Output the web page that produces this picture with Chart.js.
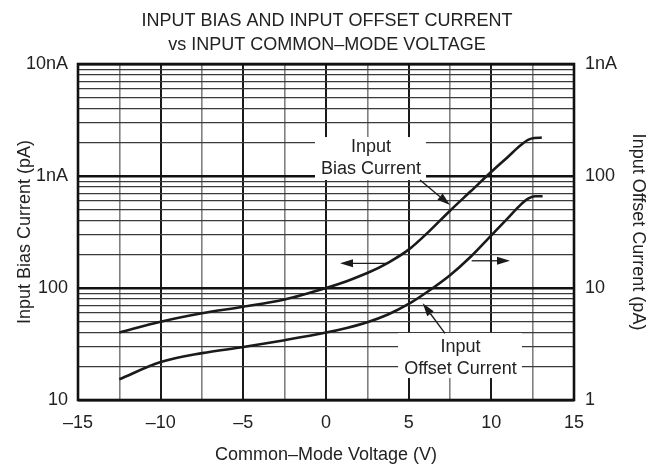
<!DOCTYPE html>
<html>
<head>
<meta charset="utf-8">
<script src="https://cdn.jsdelivr.net/npm/chart.js@4/dist/chart.umd.min.js"></script>
<style>
  html, body { margin: 0; padding: 0; background: #fff; }
  #c { display: block; }
</style>
</head>
<body>
<canvas id="c" width="654" height="468"></canvas>
<script>
// ---- data ----
const titleLines = ['INPUT BIAS AND INPUT OFFSET CURRENT', 'vs INPUT COMMON\u2013MODE VOLTAGE'];
const xTitle = 'Common\u2013Mode Voltage (V)';
const yLeftTitle = 'Input Bias Current (pA)';
const yRightTitle = 'Input Offset Current (pA)';

// Input bias current (left axis, pA) vs common-mode voltage (V)
const biasV  = [-12.5, -10, -7.5, -5, -2.5, 0, 1.25, 2.5, 3.75, 5, 6.25, 7.5, 8.75, 10, 11, 11.75, 12.25, 12.6, 13.05];
const biasPA = [40, 50, 59.5, 68, 79, 100, 115, 136, 168, 220, 322, 490, 730, 1090, 1480, 1870, 2110, 2185, 2200];

// Input offset current (right axis, pA) vs common-mode voltage (V)
const offV  = [-12.5, -10, -7.5, -5, -2.5, 0, 1.25, 2.5, 3.75, 5, 6.25, 7.5, 8.75, 10, 11, 11.75, 12.25, 12.65, 13.1];
const offPA = [1.53, 2.18, 2.62, 2.97, 3.42, 4.0, 4.4, 4.95, 5.8, 7.2, 9.5, 13, 19, 29.5, 42, 55, 63, 66, 66];

// axis ranges and tick labels
const xMin = -15, xMax = 15, xStep = 2.5;
const leftDecades  = [10, 100, 1000, 10000];
const leftLabels   = ['10', '100', '1nA', '10nA'];
const rightDecades = [1, 10, 100, 1000];
const rightLabels  = ['1', '10', '100', '1nA'];

// annotations (data coordinates: V, left-axis pA)
const biasLabel   = { lines: ['Input', 'Bias Current'],   box: [-0.665, 6.05, 2228, 921] };
const offsetLabel = { lines: ['Input', 'Offset Current'], box: [4.355, 11.855, 39.6, 15.7] };
const arrows = [
  [5.685, 921, 7.5, 551],
  [7.198, 39.4, 5.85, 73],
  [3.67, 166, 0.847, 166],
  [8.81, 175, 11.13, 175]
];

// ---- build ----
const FONT = "'Liberation Sans', Arial, Helvetica, sans-serif";
const TXT = '#222';

function minorTicks(decades) {
  const out = [];
  for (let i = 0; i < decades.length - 1; i++) {
    for (let m = 1; m < 10; m++) out.push({ value: decades[i] * m });
  }
  out.push({ value: decades[decades.length - 1] });
  return out;
}
function isDecade(v) { const l = Math.log10(v); return Math.abs(l - Math.round(l)) < 1e-9; }

const annotPlugin = {
  id: 'annot',
  beforeDatasetsDraw(chart) {
    const { ctx, chartArea, scales } = chart;
    const x = scales.x, y = scales.y;
    ctx.save();
    ctx.fillStyle = '#fff';
    [biasLabel, offsetLabel].forEach(l => {
      const [x0, x1, y0, y1] = l.box;
      const px0 = x.getPixelForValue(x0), px1 = x.getPixelForValue(x1);
      const py0 = y.getPixelForValue(y0), py1 = y.getPixelForValue(y1);
      ctx.fillRect(px0, py0, px1 - px0, py1 - py0);
    });
    // frame
    ctx.strokeStyle = '#111';
    ctx.lineWidth = 2.6;
    ctx.strokeRect(chartArea.left, chartArea.top, chartArea.right - chartArea.left, chartArea.bottom - chartArea.top);
    ctx.restore();
  },
  afterDatasetsDraw(chart) {
    const { ctx, scales } = chart;
    const x = scales.x, y = scales.y;
    ctx.save();
    ctx.fillStyle = TXT;
    ctx.font = '18px ' + FONT;
    ctx.textAlign = 'center';
    ctx.textBaseline = 'middle';
    [[biasLabel, 0], [offsetLabel, 2]].forEach(([l, dy]) => {
      const [x0, x1, y0, y1] = l.box;
      const cx = (x.getPixelForValue(x0) + x.getPixelForValue(x1)) / 2 + 0.5;
      const cy = (y.getPixelForValue(y0) + y.getPixelForValue(y1)) / 2 + dy;
      ctx.fillText(l.lines[0], cx, cy - 11);
      ctx.fillText(l.lines[1], cx, cy + 11);
    });
    ctx.strokeStyle = '#1a1a1a';
    ctx.fillStyle = '#1a1a1a';
    ctx.lineWidth = 1.3;
    arrows.forEach(([ax0, ay0, ax1, ay1]) => {
      const p0x = x.getPixelForValue(ax0), p0y = y.getPixelForValue(ay0);
      const p1x = x.getPixelForValue(ax1), p1y = y.getPixelForValue(ay1);
      const ang = Math.atan2(p1y - p0y, p1x - p0x);
      const L = 13, W = 4;
      const bx = p1x - L * Math.cos(ang), by = p1y - L * Math.sin(ang);
      ctx.beginPath();
      ctx.moveTo(p0x, p0y);
      ctx.lineTo(bx, by);
      ctx.stroke();
      ctx.beginPath();
      ctx.moveTo(p1x, p1y);
      ctx.lineTo(bx + W * Math.sin(ang), by - W * Math.cos(ang));
      ctx.lineTo(bx - W * Math.sin(ang), by + W * Math.cos(ang));
      ctx.closePath();
      ctx.fill();
    });
    ctx.restore();
  }
};

const chart = new Chart(document.getElementById('c'), {
  type: 'line',
  data: {
    datasets: [
      {
        label: 'Input Bias Current',
        data: biasV.map((v, i) => ({ x: v, y: biasPA[i] })),
        yAxisID: 'y',
        borderColor: '#1a1a1a',
        borderWidth: 2.6,
        pointRadius: 0,
        cubicInterpolationMode: 'monotone',
        fill: false
      },
      {
        label: 'Input Offset Current',
        data: offV.map((v, i) => ({ x: v, y: offPA[i] })),
        yAxisID: 'y2',
        borderColor: '#1a1a1a',
        borderWidth: 2.6,
        pointRadius: 0,
        cubicInterpolationMode: 'monotone',
        fill: false
      }
    ]
  },
  options: {
    responsive: false,
    animation: false,
    devicePixelRatio: 1,
    layout: { padding: 0 },
    plugins: {
      legend: { display: false },
      tooltip: { enabled: false },
      title: {
        display: true,
        text: titleLines,
        color: TXT,
        font: { family: FONT, size: 18, weight: 'normal', lineHeight: 1.35 },
        padding: { top: 8.5, bottom: 6.9 }
      }
    },
    scales: {
      x: {
        type: 'linear',
        min: xMin, max: xMax,
        afterFit(s) { s.height = 68; },
        border: { display: false },
        grid: {
          drawTicks: false,
          color: c => (Math.abs(c.tick.value % 5) < 1e-9 ? '#1a1a1a' : '#808080'),
          lineWidth: c => (Math.abs(c.tick.value % 5) < 1e-9 ? 2 : 1.6)
        },
        ticks: {
          stepSize: xStep,
          autoSkip: false,
          maxRotation: 0,
          padding: 12,
          color: TXT,
          font: { family: FONT, size: 18 },
          callback: v => (Math.abs(v % 5) < 1e-9 ? (v < 0 ? '\u2013' + Math.abs(v) : String(v)) : '')
        },
        title: {
          display: true, text: xTitle, color: TXT,
          font: { family: FONT, size: 18 },
          padding: { top: 0, bottom: 2.2 }
        }
      },
      y: {
        type: 'logarithmic',
        position: 'left',
        min: leftDecades[0], max: leftDecades[leftDecades.length - 1],
        afterFit(s) { s.width = 78; },
        afterBuildTicks(s) { s.ticks = minorTicks(leftDecades); },
        border: { display: false },
        grid: {
          drawTicks: false,
          color: c => (isDecade(c.tick.value) ? '#111' : '#3a3a3a'),
          lineWidth: c => (isDecade(c.tick.value) ? 2.6 : 1.2)
        },
        ticks: {
          autoSkip: false,
          padding: 10,
          color: TXT,
          font: { family: FONT, size: 18 },
          callback: v => { const i = leftDecades.indexOf(v); return i >= 0 ? leftLabels[i] : ''; }
        },
        title: {
          display: true, text: yLeftTitle, color: TXT,
          font: { family: FONT, size: 18 },
          padding: { top: 14.2, bottom: 0 }
        }
      },
      y2: {
        type: 'logarithmic',
        position: 'right',
        min: rightDecades[0], max: rightDecades[rightDecades.length - 1],
        afterFit(s) { s.width = 80; },
        afterBuildTicks(s) { s.ticks = rightDecades.map(v => ({ value: v })); },
        border: { display: false },
        grid: { display: false, drawTicks: false },
        ticks: {
          autoSkip: false,
          padding: 11,
          color: TXT,
          font: { family: FONT, size: 18 },
          callback: v => { const i = rightDecades.indexOf(v); return i >= 0 ? rightLabels[i] : ''; }
        },
        title: {
          display: true, text: yRightTitle, color: TXT,
          font: { family: FONT, size: 18 },
          padding: { top: 5.2, bottom: 0 }
        }
      }
    }
  },
  plugins: [annotPlugin]
});
</script>
</body>
</html>
